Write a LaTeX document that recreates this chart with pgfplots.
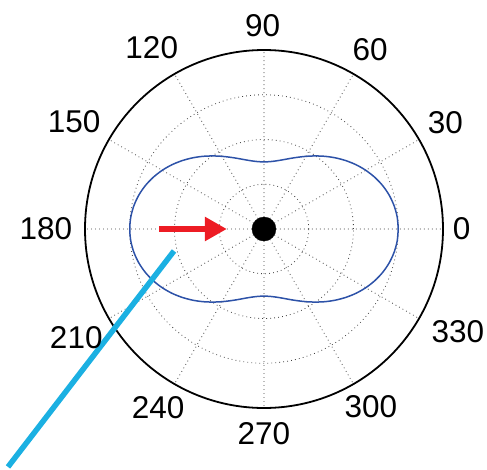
\documentclass[border=0pt]{standalone}
\usepackage{fontspec}
\setmainfont{Liberation Sans}
\usepackage{pgfplots}
\pgfplotsset{compat=1.18}
\usepgfplotslibrary{polar}
\usetikzlibrary{arrows.meta}
\definecolor{curveblue}{RGB}{45,82,168}
\definecolor{linecyan}{RGB}{27,176,226}
\definecolor{arrowred}{RGB}{237,28,36}
\begin{document}
\begin{tikzpicture}
\path[use as bounding box] (-264pt,-240pt) rectangle (223pt,229pt);
\begin{polaraxis}[
 at={(0,0)}, anchor=center,
 width=358pt, height=358pt, scale only axis,
 ymin=0, ymax=4, ytick={1,2,3}, yticklabels={},
 xtick={0,30,...,330},
 xticklabels={},
 grid=major,
 major grid style={black!75, line width=0.8pt, dash pattern=on 0.8pt off 3.2pt},
 major tick length=0pt,
 x axis line style={black, line width=1.8pt},
 y axis line style={draw=none},
 clip=false,
]
\addplot[curveblue, line width=1.5pt, smooth] coordinates {
(0,3.000)(5,2.989)(10,2.955)(15,2.900)(20,2.825)(25,2.732)(30,2.625)(35,2.507)(40,2.380)(45,2.250)
(50,2.120)(55,1.993)(60,1.875)(65,1.768)(70,1.676)(75,1.600)(80,1.545)(85,1.511)(90,1.500)
(95,1.511)(100,1.545)(105,1.600)(110,1.676)(115,1.768)(120,1.875)(125,1.993)(130,2.120)(135,2.250)
(140,2.380)(145,2.507)(150,2.625)(155,2.732)(160,2.825)(165,2.900)(170,2.955)(175,2.989)(180,3.000)
(185,2.989)(190,2.955)(195,2.900)(200,2.825)(205,2.732)(210,2.625)(215,2.507)(220,2.380)(225,2.250)
(230,2.120)(235,1.993)(240,1.875)(245,1.768)(250,1.676)(255,1.600)(260,1.545)(265,1.511)(270,1.500)
(275,1.511)(280,1.545)(285,1.600)(290,1.676)(295,1.768)(300,1.875)(305,1.993)(310,2.120)(315,2.250)
(320,2.380)(325,2.507)(330,2.625)(335,2.732)(340,2.825)(345,2.900)(350,2.955)(355,2.989)(360,3.000)
};
\addplot[arrowred, line width=6.5pt, -{Triangle[length=22pt, width=23pt]}] coordinates {(180,2.34) (180,0.83)};
\addplot[only marks, mark=*, mark size=12pt, black] coordinates {(0,0)};
\addplot[linecyan, line width=5.5pt] coordinates {(193.7,2.07) (222.9,7.81)};
\begin{scope}[every node/.style={font=\fontsize{31.5}{36}\selectfont, anchor=center, inner sep=0pt}]
\node at (axis cs:0,4.418) {0};
\node at (axis cs:30.3,4.693) {30};
\node at (axis cs:59.4,4.661) {60};
\node at (axis cs:90.4,4.536) {90};
\node at (axis cs:121.8,4.760) {120};
\node at (axis cs:150.6,4.872) {150};
\node at (axis cs:180,4.872) {180};
\node at (axis cs:210.1,4.849) {210};
\node at (axis cs:239.4,4.648) {240};
\node at (axis cs:270,4.565) {270};
\node at (axis cs:301,4.637) {300};
\node at (axis cs:332,4.909) {330};
\end{scope}
\end{polaraxis}
\end{tikzpicture}
\end{document}
